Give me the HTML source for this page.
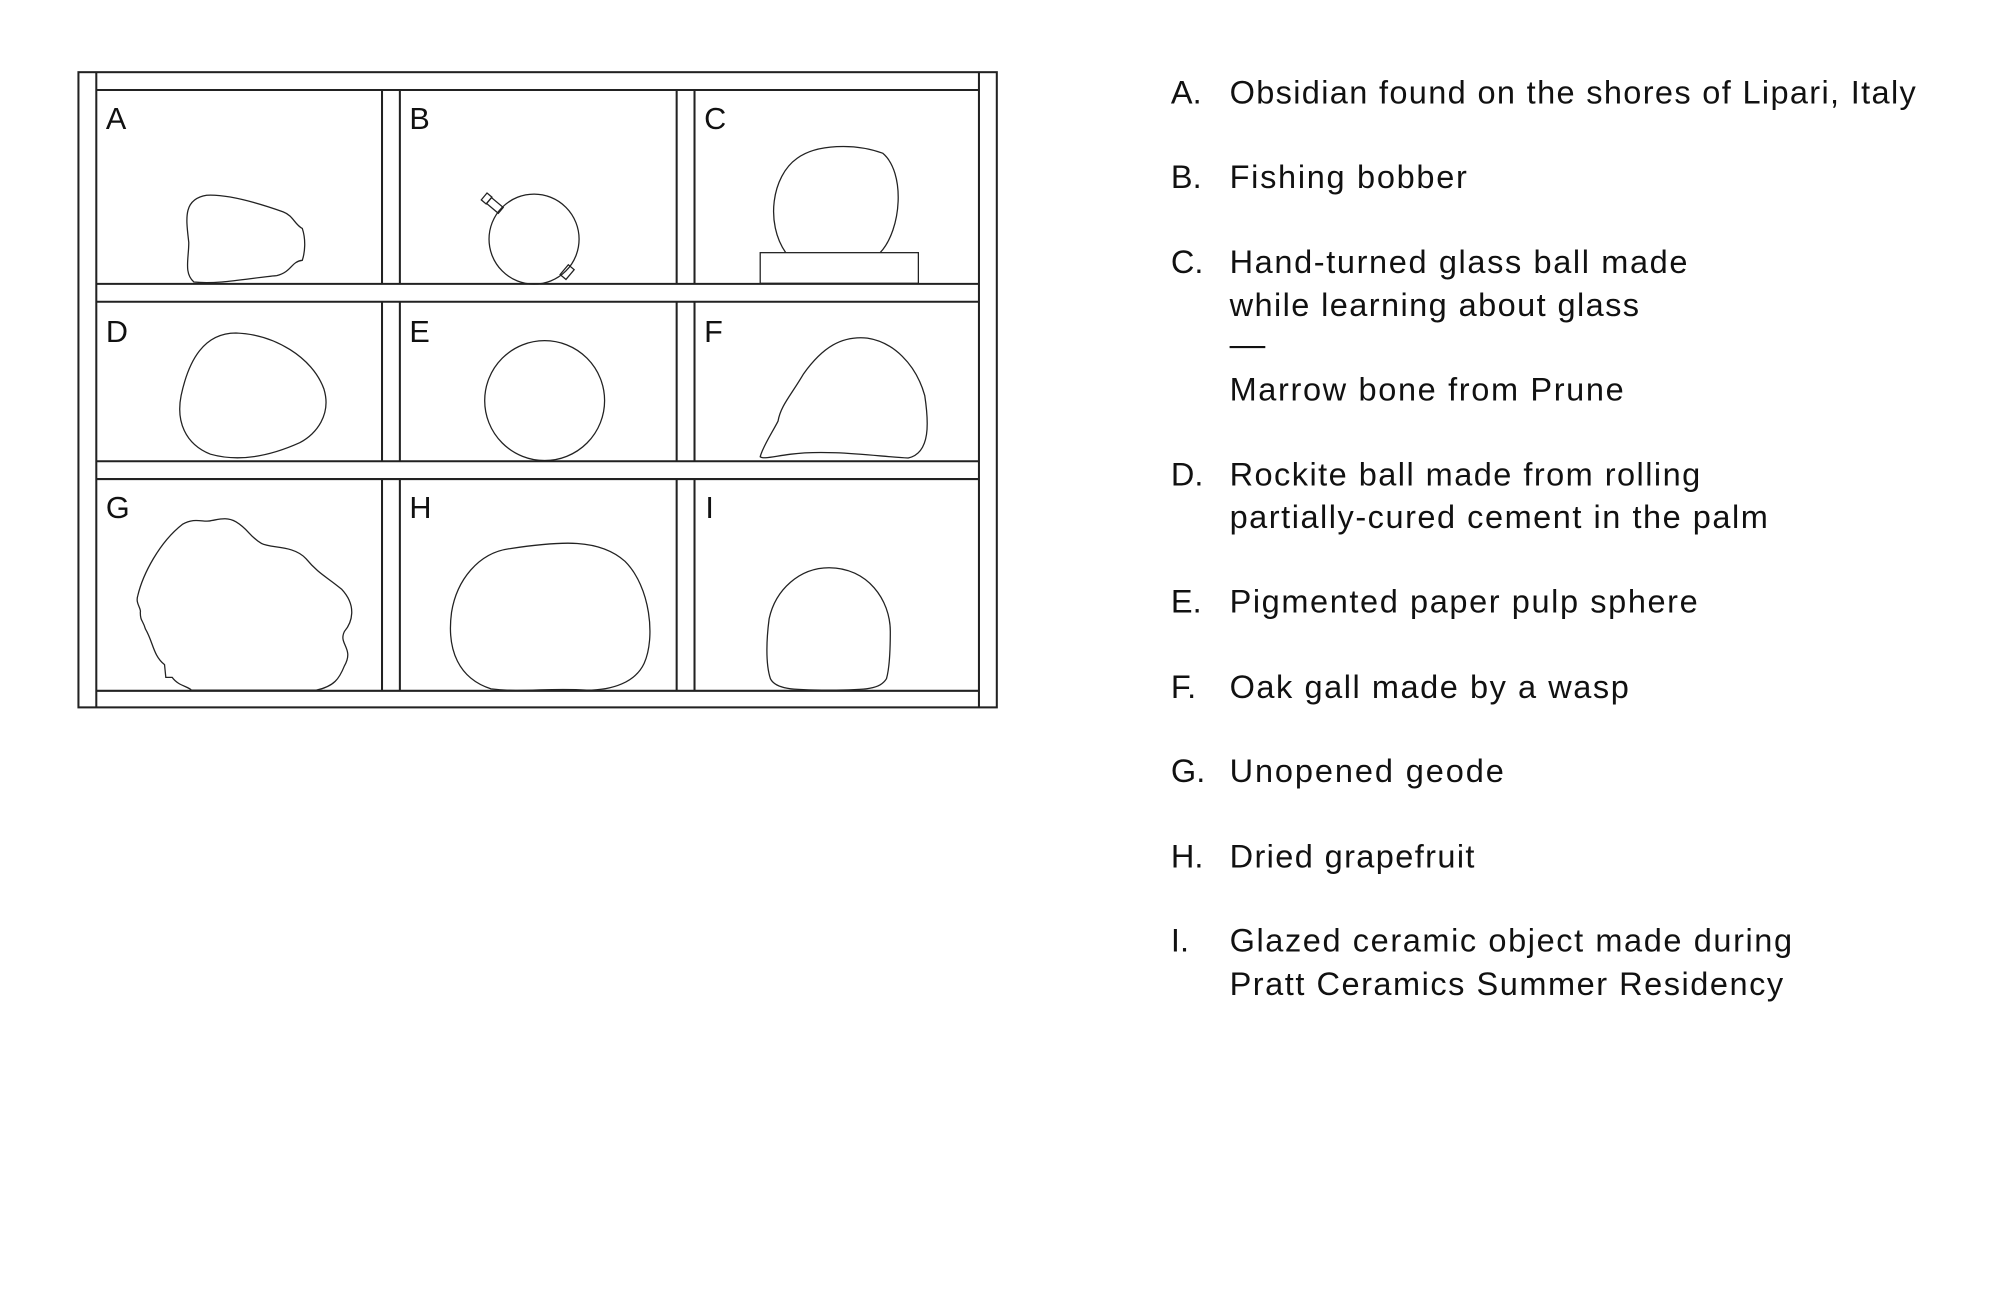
<!DOCTYPE html>
<html><head><meta charset="utf-8"><style>
html,body{margin:0;padding:0;background:#fff;}
svg{display:block;}
text{font-family:"Liberation Sans",Arial,sans-serif;fill:#111;}
</style></head><body>
<svg width="2000" height="1314" viewBox="0 0 1568 1030" xmlns="http://www.w3.org/2000/svg">
<rect width="1568" height="1030" fill="#fff"/>
<g fill="none" stroke="#222" stroke-width="1.6">
  <rect x="61.5" y="56.5" width="720" height="498"/>
  <line x1="75.5" y1="56.5" x2="75.5" y2="554.5"/>
  <line x1="767.5" y1="56.5" x2="767.5" y2="554.5"/>
  <line x1="75.5" y1="70.5" x2="767.5" y2="70.5"/>
  <line x1="75.5" y1="222.5" x2="767.5" y2="222.5"/>
  <line x1="75.5" y1="236.5" x2="767.5" y2="236.5"/>
  <line x1="75.5" y1="361.5" x2="767.5" y2="361.5"/>
  <line x1="75.5" y1="375.5" x2="767.5" y2="375.5"/>
  <line x1="75.5" y1="541.5" x2="767.5" y2="541.5"/>
  <g>
    <line x1="299.5" y1="70.5" x2="299.5" y2="222.5"/><line x1="313.5" y1="70.5" x2="313.5" y2="222.5"/>
    <line x1="530.5" y1="70.5" x2="530.5" y2="222.5"/><line x1="544.5" y1="70.5" x2="544.5" y2="222.5"/>
    <line x1="299.5" y1="236.5" x2="299.5" y2="361.5"/><line x1="313.5" y1="236.5" x2="313.5" y2="361.5"/>
    <line x1="530.5" y1="236.5" x2="530.5" y2="361.5"/><line x1="544.5" y1="236.5" x2="544.5" y2="361.5"/>
    <line x1="299.5" y1="375.5" x2="299.5" y2="541.5"/><line x1="313.5" y1="375.5" x2="313.5" y2="541.5"/>
    <line x1="530.5" y1="375.5" x2="530.5" y2="541.5"/><line x1="544.5" y1="375.5" x2="544.5" y2="541.5"/>
  </g>
</g>
<g fill="none" stroke="#222" stroke-width="1">
  <path d="M152,221 C144,214 148,203 148,190 C146,172 143,156 162,153 C180,152 205,160 222,166 C230,169 231,176 237,179 C240,188 239,198 237,204 C228,205 229,213 217,216 C195,218 172,223 152,221 Z"/>
  <circle cx="418.7" cy="187.4" r="35.3"/>
  <g transform="translate(388,161) rotate(-50)"><rect x="-3" y="-6" width="6" height="12"/><rect x="-3.5" y="-11" width="7" height="5" /></g>
  <g transform="translate(444,214) rotate(40)"><rect x="-3" y="-6" width="6" height="10"/></g>
  <path d="M616,198 C600,175 605,138 625,124 C640,113 670,112 692,120 C710,135 707,180 690,198"/>
  <rect x="596" y="198" width="124" height="24"/>
  <path d="M185,261 C215,262 245,280 254,305 C260,325 248,340 235,347 C215,356 190,363 165,356 C145,348 138,330 142,310 C148,282 160,261 185,261 Z"/>
  <ellipse cx="427" cy="314" rx="47" ry="47"/>
  <path d="M596,358 C598,350 606,338 610,330 C612,318 620,310 630,293 C645,272 660,263 680,265 C700,268 718,285 725,310 C728,330 730,355 712,359 C690,358 650,352 620,356 C605,358 598,360 596,358 Z"/>
  <path d="M150,541 C148,538 140,538 135,531 L130,531 L129,521 C120,514 120,503 114,493 C112,486 110,487 110,480 C111,477 106,473 108,467 C112,450 125,425 143,411 C153,405 160,410 166,408 C172,407 178,405 185,409 C195,415 195,420 205,426 C212,430 230,427 240,438 C250,450 256,452 268,462 C280,475 276,488 270,495 C265,505 278,508 270,522 C266,532 262,538 248,541 Z"/>
  <path d="M400,430 C440,424 470,422 490,440 C510,460 514,500 505,520 C498,535 480,541 460,541 C430,539 410,543 385,540 C360,532 350,510 354,480 C358,455 375,433 400,430 Z"/>
  <path d="M650,445 C680,445 698,470 698,495 C698,510 697,525 695,532 C690,540 680,541 650,541 C620,541 608,540 604,532 C600,520 601,500 603,485 C608,462 627,445 650,445 Z"/>
</g>
<g font-size="24" fill="#111">
  <text x="83" y="101">A</text><text x="321" y="101">B</text><text x="552" y="101">C</text>
  <text x="83" y="268">D</text><text x="321" y="268">E</text><text x="552" y="268">F</text>
  <text x="83" y="406">G</text><text x="321" y="406">H</text><text x="553" y="406">I</text>
</g>
<g font-size="25.5">
  <text x="918" y="81">A.</text><text x="964" y="81" textLength="538" lengthAdjust="spacing">Obsidian found on the shores of Lipari, Italy</text>
  <text x="918" y="147.5">B.</text><text x="964" y="147.5" textLength="186" lengthAdjust="spacing">Fishing bobber</text>
  <text x="918" y="214">C.</text><text x="964" y="214" textLength="359" lengthAdjust="spacing">Hand-turned glass ball made</text>
  <text x="964" y="247.5" textLength="321" lengthAdjust="spacing">while learning about glass</text>
  <line x1="964" y1="272" x2="992" y2="272" stroke="#111" stroke-width="1.6"/>
  <text x="964" y="314" textLength="309" lengthAdjust="spacing">Marrow bone from Prune</text>
  <text x="918" y="380.5">D.</text><text x="964" y="380.5" textLength="369" lengthAdjust="spacing">Rockite ball made from rolling</text>
  <text x="964" y="414" textLength="422" lengthAdjust="spacing">partially-cured cement in the palm</text>
  <text x="918" y="480">E.</text><text x="964" y="480" textLength="367" lengthAdjust="spacing">Pigmented paper pulp sphere</text>
  <text x="918" y="547">F.</text><text x="964" y="547" textLength="313" lengthAdjust="spacing">Oak gall made by a wasp</text>
  <text x="918" y="613">G.</text><text x="964" y="613" textLength="215" lengthAdjust="spacing">Unopened geode</text>
  <text x="918" y="680">H.</text><text x="964" y="680" textLength="192" lengthAdjust="spacing">Dried grapefruit</text>
  <text x="918" y="746">I.</text><text x="964" y="746" textLength="441" lengthAdjust="spacing">Glazed ceramic object made during</text>
  <text x="964" y="780" textLength="434" lengthAdjust="spacing">Pratt Ceramics Summer Residency</text>
</g>
</svg>
</body></html>
